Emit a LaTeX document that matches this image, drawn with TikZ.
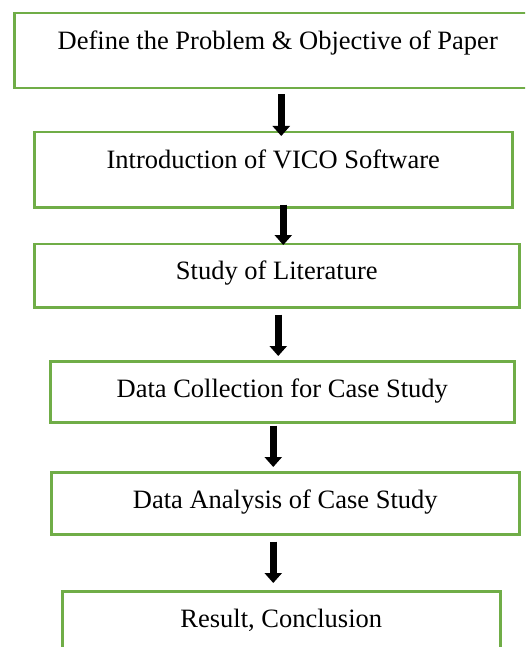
\documentclass[tikz,border=0pt]{standalone}
\usepackage{fontspec}
\setmainfont{Liberation Serif}
\usetikzlibrary{arrows.meta,calc}
\definecolor{boxgreen}{HTML}{70AD47}
\tikzset{
  stepbox/.style={draw=boxgreen,line width=2.5pt,anchor=north west,inner sep=0pt,
    text height=36pt,font=\fontsize{26.5}{30}\selectfont},
  flow/.style={draw=black,line width=6.5pt,-{Triangle[width=17pt,length=10pt]}}
}
\begin{document}
\begin{tikzpicture}[x=1pt,y=-1pt]
\path[use as bounding box,clip] (0,0) rectangle (525,647);
\node[stepbox,minimum width=527pt,text depth=39pt] (b1) at (13,12) {Define the Problem \& Objective of Paper};
\node[stepbox,minimum width=478pt,text depth=39pt] (b2) at (33,131) {Introduction of VICO Software};
\node[stepbox,minimum width=485pt,text depth=27.5pt] (b3) at (33,242.5) {Study of Literature};
\node[stepbox,minimum width=464pt,text depth=25pt] (b4) at (49,360) {Data Collection for Case Study};
\node[stepbox,minimum width=468pt,text depth=26pt] (b5) at (50,471) {Data Analysis of Case Study};
\node[stepbox,minimum width=438pt,text depth=44pt] (b6) at (61,590) {Result, Conclusion};

\draw[flow] ($(b1.south)+(3.5,5)$) -- ($(b2.north)+(8,5)$);
\draw[flow] ($(b2.south)+(10,-4)$) -- ($(b3.north)+(6.5,2.5)$);
\draw[flow] ($(b3.south)+(1.5,6)$) -- ($(b4.north)+(-4,-4)$);
\draw[flow] ($(b4.south)+(-9,2)$) -- ($(b5.north)+(-12,-4)$);
\draw[flow] ($(b5.south)+(-12,6)$) -- ($(b6.north)+(-8,-7)$);
\end{tikzpicture}
\end{document}
